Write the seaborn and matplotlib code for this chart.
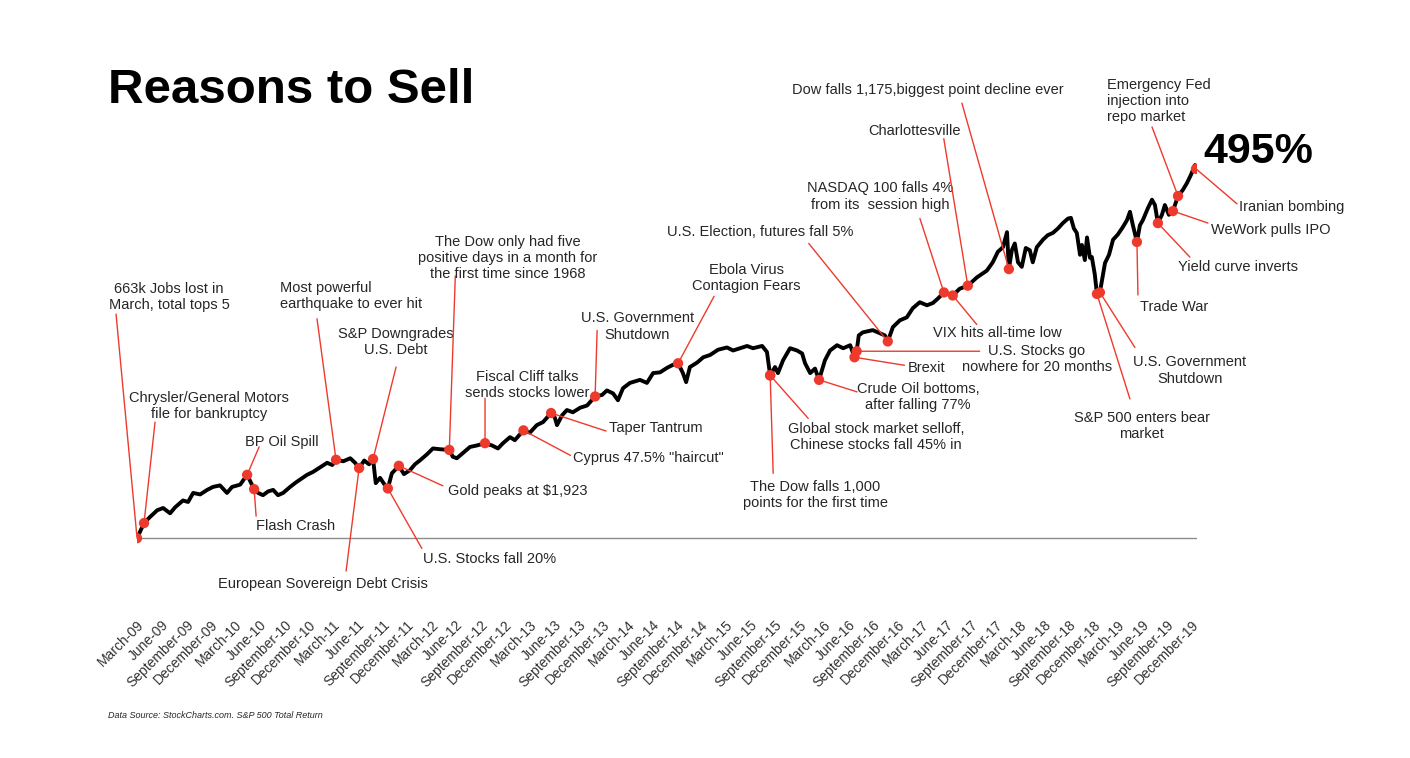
import pandas as pd
import matplotlib.pyplot as plt
import matplotlib.dates as mdates
import seaborn as sns

# --- DATA: S&P 500 total return, cumulative % since March 9, 2009 ---
line_dates = [
    "2009-03-09", "2009-04-04", "2009-04-26", "2009-05-23", "2009-06-14", "2009-07-10",
    "2009-07-29", "2009-08-27", "2009-09-15", "2009-10-04", "2009-10-30", "2009-11-25",
    "2009-12-17", "2010-01-12", "2010-02-07", "2010-02-26", "2010-03-28", "2010-04-23",
    "2010-05-19", "2010-06-03", "2010-06-21", "2010-07-10", "2010-07-29", "2010-08-16",
    "2010-09-04", "2010-09-30", "2010-10-22", "2010-12-02", "2010-12-25", "2011-01-20",
    "2011-02-15", "2011-03-06", "2011-03-20", "2011-04-16", "2011-05-12", "2011-05-30",
    "2011-06-14", "2011-07-03", "2011-07-21", "2011-08-05", "2011-08-15", "2011-08-31",
    "2011-09-15", "2011-09-29", "2011-10-14", "2011-11-09", "2011-11-28", "2011-12-20",
    "2012-01-08", "2012-01-26", "2012-02-21", "2012-03-15", "2012-04-10", "2012-05-15",
    "2012-05-28", "2012-06-12", "2012-07-05", "2012-07-31", "2012-08-26", "2012-09-25",
    "2012-10-21", "2012-11-12", "2012-12-01", "2012-12-27", "2013-01-14", "2013-02-15",
    "2013-03-11", "2013-04-06", "2013-04-29", "2013-05-29", "2013-06-12", "2013-06-20",
    "2013-07-09", "2013-07-27", "2013-08-18", "2013-09-14", "2013-10-10", "2013-11-09",
    "2013-12-05", "2013-12-23", "2014-01-15", "2014-02-02", "2014-02-21", "2014-03-19",
    "2014-04-25", "2014-05-21", "2014-06-13", "2014-07-09", "2014-08-04", "2014-08-26",
    "2014-09-14", "2014-10-02", "2014-10-14", "2014-10-28", "2014-11-24", "2014-12-17",
    "2015-01-11", "2015-02-10", "2015-03-15", "2015-04-07", "2015-05-03", "2015-05-29",
    "2015-06-20", "2015-07-24", "2015-08-11", "2015-08-23", "2015-09-10", "2015-09-21",
    "2015-10-10", "2015-11-05", "2015-12-01", "2015-12-20", "2015-12-31", "2016-01-19",
    "2016-02-06", "2016-02-21", "2016-03-14", "2016-04-02", "2016-04-28", "2016-05-21",
    "2016-06-16", "2016-07-02", "2016-07-10", "2016-07-18", "2016-08-02", "2016-09-08",
    "2016-10-04", "2016-10-23", "2016-11-03", "2016-11-22", "2016-12-18", "2017-01-13",
    "2017-02-04", "2017-03-02", "2017-03-29", "2017-04-20", "2017-05-09", "2017-05-31",
    "2017-07-03", "2017-07-29", "2017-08-28", "2017-10-01", "2017-11-07", "2017-11-29",
    "2017-12-18", "2018-01-06", "2018-01-21", "2018-01-28", "2018-02-08", "2018-02-19",
    "2018-03-03", "2018-03-17", "2018-04-01", "2018-04-16", "2018-04-27", "2018-05-12",
    "2018-06-04", "2018-06-22", "2018-07-11", "2018-07-30", "2018-08-17", "2018-09-05",
    "2018-09-16", "2018-09-27", "2018-10-08", "2018-10-20", "2018-10-27", "2018-11-07",
    "2018-11-15", "2018-11-26", "2018-12-03", "2018-12-14", "2018-12-22", "2019-01-02",
    "2019-01-21", "2019-02-05", "2019-02-20", "2019-03-10", "2019-03-29", "2019-04-13",
    "2019-04-24", "2019-05-05", "2019-05-20", "2019-05-31", "2019-06-11", "2019-06-30",
    "2019-07-15", "2019-07-26", "2019-08-06", "2019-08-21", "2019-09-01", "2019-09-16",
    "2019-10-01", "2019-10-20", "2019-11-07", "2019-11-22", "2019-12-07", "2019-12-22",
    "2019-12-26",
]
line_values = [
    0, 20, 28, 37, 40, 33,
    41, 50, 48, 60, 58, 64,
    68, 70, 60, 68, 71, 84,
    65, 60, 57, 62, 64, 57,
    60, 68, 74, 84, 88, 94,
    100, 97, 104, 102, 106, 100,
    93, 103, 98, 105, 73, 80,
    72, 66, 86, 96, 85, 90,
    98, 103, 111, 119, 118, 117,
    108, 106, 113, 121, 123, 126,
    123, 119, 126, 134, 130, 143,
    140, 150, 154, 166, 160, 150,
    163, 170, 167, 173, 176, 188,
    190, 196, 192, 183, 199, 206,
    210, 206, 219, 220, 226, 230,
    232, 219, 207, 227, 233, 240,
    243, 250, 253, 249, 252, 255,
    252, 255, 247, 216, 227, 219,
    236, 252, 249, 245, 232, 219,
    225, 210, 236, 249, 256, 252,
    256, 240, 248, 269, 273, 276,
    272, 269, 261, 280, 289, 293,
    305, 313, 309, 312, 318, 326,
    322, 331, 335, 346, 355, 366,
    380, 386, 406, 357, 382, 391,
    366, 360, 385, 382, 366, 386,
    396, 402, 405, 411, 418, 424,
    425, 411, 405, 376, 389, 369,
    399, 372, 373, 350, 324, 326,
    365, 376, 396, 403, 413, 422,
    433, 415, 393, 415, 422, 438,
    449, 442, 418, 429, 442, 429,
    434, 454, 462, 471, 482, 495,
    490,
]

event_labels = [
    "663k Jobs lost in\nMarch, total tops 5",
    "Chrysler/General Motors\nfile for bankruptcy",
    "BP Oil Spill",
    "Flash Crash",
    "Most powerful\nearthquake to ever hit",
    "S&P Downgrades\nU.S. Debt",
    "European Sovereign Debt Crisis",
    "U.S. Stocks fall 20%",
    "Gold peaks at $1,923",
    "The Dow only had five\npositive days in a month for\nthe first time since 1968",
    "Fiscal Cliff talks\nsends stocks lower",
    "Cyprus 47.5% \"haircut\"",
    "Taper Tantrum",
    "U.S. Government\nShutdown",
    "Ebola Virus\nContagion Fears",
    "U.S. Election, futures fall 5%",
    "The Dow falls 1,000\npoints for the first time",
    "Global stock market selloff,\nChinese stocks fall 45% in",
    "Crude Oil bottoms,\nafter falling 77%",
    "Brexit",
    "U.S. Stocks go\nnowhere for 20 months",
    "NASDAQ 100 falls 4%\nfrom its  session high",
    "VIX hits all-time low",
    "Charlottesville",
    "Dow falls 1,175,biggest point decline ever",
    "S&P 500 enters bear\nmarket",
    "U.S. Government\nShutdown",
    "Trade War",
    "Yield curve inverts",
    "WeWork pulls IPO",
    "Emergency Fed\ninjection into\nrepo market",
    "Iranian bombing",
]
event_dates = [
    "2009-03-09", "2009-04-04", "2010-04-23", "2010-05-19", "2011-03-20", "2011-08-05",
    "2011-06-14", "2011-09-29", "2011-11-09", "2012-05-15", "2012-09-25", "2013-02-15",
    "2013-05-29", "2013-11-09", "2014-09-14", "2016-11-03", "2015-08-23", "2015-08-23",
    "2016-02-21", "2016-07-02", "2016-07-10", "2017-05-31", "2017-07-03", "2017-08-28",
    "2018-01-28", "2018-12-22", "2019-01-02", "2019-05-20", "2019-08-06", "2019-10-01",
    "2019-10-20", "2019-12-26",
]
event_values = [
    0, 20, 84, 65, 104, 105,
    93, 66, 96, 117, 126, 143,
    166, 188, 232, 261, 216, 216,
    210, 240, 248, 326, 322, 335,
    357, 324, 326, 393, 418, 434,
    454, 490,
]

quarter_ticks = pd.date_range("2009-03-09", "2019-12-31", freq=pd.DateOffset(months=3))

# --- LAYOUT (offsets in pixels from each dot): leader end, text anchor, alignment ---
leader_ends = [
    (-21, 224), (11, 101), (12, 28), (2, -27), (-19, 141), (23, 92),
    (-13, -103), (34, -60), (44, -20), (6, 174), (0, 45), (47, -25),
    (55, -18), (2, 66), (36, 67), (-79, 98), (3, -98), (38, -43),
    (38, -12), (50, -8), (123, 0), (-24, 74), (24, -29), (-24, 147),
    (-47, 166), (33, -105), (35, -55), (1, -53), (32, -34), (35, -12),
    (-26, 69), (41, -35),
]
text_pos = [
    (32, 241, "center"), (65, 117, "center"), (35, 33, "center"), (2, -37, "left"),
    (-56, 164, "left"), (23, 117, "center"), (-36, -116, "center"), (35, -71, "left"),
    (49, -25, "left"), (58, 192, "center"), (42, 58, "center"), (50, -28, "left"),
    (58, -15, "left"), (42, 70, "center"), (68, 85, "center"), (-128, 109, "center"),
    (45, -120, "center"), (106, -62, "center"), (99, -17, "center"), (53, -11, "left"),
    (180, -8, "center"), (-64, 96, "center"), (45, -38, "center"), (-53, 155, "center"),
    (-81, 179, "center"), (45, -132, "center"), (90, -78, "center"), (3, -65, "left"),
    (20, -44, "left"), (38, -19, "left"), (-71, 95, "left"), (43, -38, "left"),
]

RED = "#EE3A2C"
TXT = "#262626"

sns.set_style("white")
plt.rcParams["font.family"] = ["Liberation Sans", "DejaVu Sans"]

line_df = pd.DataFrame({"date": pd.to_datetime(line_dates), "pct": line_values})
ev_df = pd.DataFrame({"date": pd.to_datetime(event_dates), "pct": event_values})

fig = plt.figure(figsize=(14.1, 7.58), dpi=100)
ax = fig.add_axes([0.0972, 0.1926, 0.7518, 0.6095])

sns.lineplot(data=line_df, x="date", y="pct", color="black", linewidth=2.8, ax=ax, zorder=2)
sns.scatterplot(data=ev_df, x="date", y="pct", color=RED, s=55, edgecolor="none", ax=ax, zorder=4)

ax.axhline(0, color="#8c8c8c", linewidth=1, zorder=1)
ax.set_xlim(pd.Timestamp("2009-03-09"), pd.Timestamp("2019-12-30"))
ax.set_ylim(-98, 515)

for i, label in enumerate(event_labels):
    xy = (mdates.date2num(ev_df["date"][i]), ev_df["pct"][i])
    ax.annotate("", xy=xy, xytext=leader_ends[i], textcoords="offset pixels",
                arrowprops=dict(arrowstyle="-", color=RED, lw=1, shrinkA=0, shrinkB=0),
                zorder=3)
    tx, ty, ha = text_pos[i]
    ax.annotate(label, xy=xy, xytext=(tx, ty), textcoords="offset pixels",
                ha=ha, va="center", multialignment=ha, fontsize=10.5, color=TXT,
                linespacing=1.2)

ax.set_xticks(quarter_ticks)
ax.set_xticklabels([d.strftime("%B-%y") for d in quarter_ticks], rotation=45,
                   ha="right", rotation_mode="anchor", fontsize=10, color="#333333")
ax.tick_params(axis="x", length=0, pad=4)
ax.set_yticks([])
ax.set_xlabel("")
ax.set_ylabel("")
for s in ax.spines.values():
    s.set_visible(False)

fig.text(108 / 1410, 1 - 103 / 758, "Reasons to Sell", fontsize=35.5, fontweight="bold",
         color="black", va="baseline", ha="left")
fig.text(1203 / 1410, 1 - 163 / 758, "495%", fontsize=31, fontweight="bold",
         color="black", va="baseline", ha="left")
fig.text(108 / 1410, 1 - 716 / 758, "Data Source: StockCharts.com. S&P 500 Total Return",
         fontsize=6.5, style="italic", color=TXT, va="center", ha="left")

fig.savefig("out.png", dpi=100, facecolor="white")
